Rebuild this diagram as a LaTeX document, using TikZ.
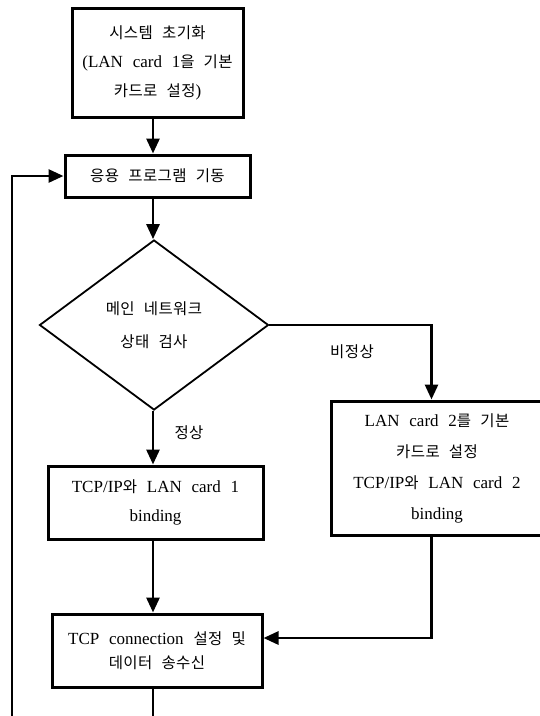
\documentclass[tikz,border=0pt]{standalone}
\usepackage{fontspec}
\setmainfont{Liberation Serif}[WordSpace=2.3]
\newfontfamily\krfont{Noto Sans CJK KR}[LetterSpace=3,WordSpace=2.3]
\newcommand\kt[1]{{\fontsize{15.5}{\baselineskip}\selectfont\krfont #1}}
\usetikzlibrary{arrows.meta,shapes.geometric,calc}

\begin{document}
\begin{tikzpicture}[x=1pt,y=-1pt,
  stepbox/.style={draw,line width=3pt,align=center,inner sep=0pt},
  flow/.style={line width=2.8pt,-{Triangle[length=15pt,width=13pt]}},
  tag/.style={inner sep=0pt}]
\useasboundingbox (0,0) rectangle (540,716);
\clip (0,0) rectangle (540,716);

% process boxes
\node[stepbox,minimum width=171pt,minimum height=109pt,
      font=\fontsize{17}{29}\selectfont] (init) at (157.5,62.5)
  {\kt{시스템 초기화}\\(LAN card 1\kt{을 기본}\\\kt{카드로 설정})};
\node[stepbox,minimum width=185pt,minimum height=42pt,
      font=\fontsize{17}{29}\selectfont] (app) at (157.5,176)
  {\kt{응용 프로그램 기동}};
\node[draw,diamond,line width=1.8pt,minimum width=229pt,minimum height=170pt,
      inner sep=0pt,align=center,font=\fontsize{17}{33}\selectfont] (chk) at (154,325)
  {\kt{메인 네트워크}\\\kt{상태 검사}};
\node[stepbox,minimum width=212pt,minimum height=134pt,
      font=\fontsize{17}{31}\selectfont] (bind2) at (437,468)
  {LAN card 2\kt{를 기본}\\\kt{카드로 설정}\\TCP/IP\kt{와} LAN card 2\\binding};
\node[stepbox,minimum width=215pt,minimum height=73pt,
      font=\fontsize{17}{29}\selectfont] (bind1) at (155.5,502.5)
  {TCP/IP\kt{와} LAN card 1\\binding};
\node[stepbox,minimum width=210pt,minimum height=73pt,
      font=\fontsize{17}{24}\selectfont] (xfer) at (157,650.5)
  {TCP connection \kt{설정 및}\\\kt{데이터 송수신}};

% branch labels
\node[tag,font=\fontsize{17}{17}\selectfont] (nok) at (352,352) {\kt{비정상}};
\node[tag,font=\fontsize{17}{17}\selectfont] (ok) at (189,433) {\kt{정상}};

% connectors
\coordinate (trunk) at (153,0);
\coordinate (rside) at (431.5,0);
\coordinate (loopx) at (12,745);
\draw[flow] (init.south -| trunk) -- (app.north -| trunk);
\draw[flow] (app.south -| trunk) -- (chk.north -| trunk);
\draw[flow] (chk.south -| trunk) -- (bind1.north -| trunk);
\draw[flow] (bind1.south -| trunk) -- (xfer.north -| trunk);
\draw[flow] (chk.east) -| (bind2.north -| rside);
\draw[flow] (bind2.south -| rside) |- ([yshift=12.5pt]xfer.east);
\draw[flow] (xfer.south -| trunk) |- (loopx) |- (app.west);
\end{tikzpicture}
\end{document}
